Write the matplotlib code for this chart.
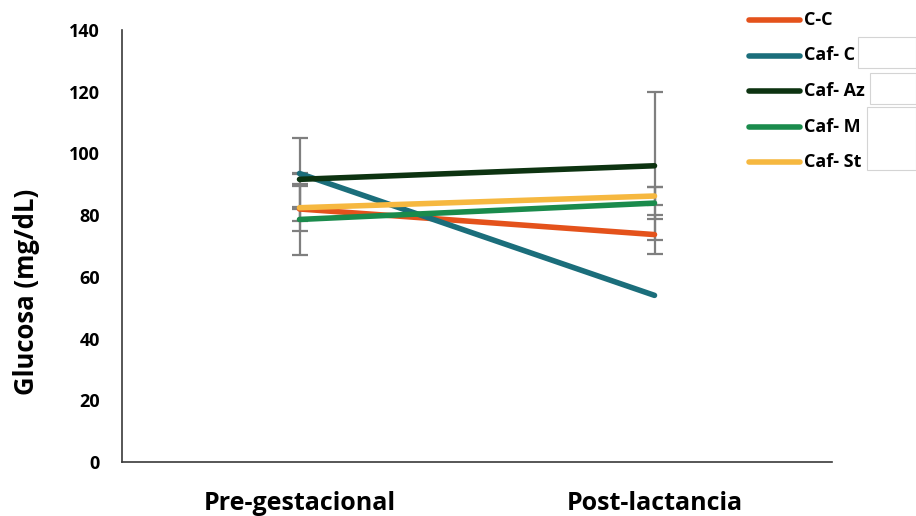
import matplotlib
matplotlib.use("Agg")
import matplotlib.pyplot as plt
from matplotlib.patches import Rectangle
from matplotlib.lines import Line2D

# Glucose per group at the two time points
periods = ["Pre-gestacional", "Post-lactancia"]
groups = ["C-C", "Caf- C", "Caf- Az", "Caf- M", "Caf- St"]
cc_vals = [82.0, 73.7]
cafc_vals = [93.5, 54.0]
cafaz_vals = [91.6, 96.0]
cafm_vals = [78.6, 83.9]
cafst_vals = [82.4, 86.2]
cc_err = [7.3, 6.3]
cafc_err = [0.3, 0.0]
cafaz_err = [13.5, 24.0]
cafm_err = [11.4, 5.3]
cafst_err = [0.4, 3.0]

colors = ["#E4521B", "#1B6E7B", "#0D3311", "#1A8B4C", "#F6B840"]
values = [cc_vals, cafc_vals, cafaz_vals, cafm_vals, cafst_vals]
errors = [cc_err, cafc_err, cafaz_err, cafm_err, cafst_err]

bold_font = "Open Sans"
W, H = 916, 516

fig = plt.figure(figsize=(W / 100, H / 100), dpi=100)
ax = fig.add_axes([122 / W, 1 - 462 / H, 710 / W, 432 / H])

x = list(range(len(periods)))
for vals, errs in zip(values, errors):
    for xi, v, e in zip(x, vals, errs):
        if e > 0:
            ax.errorbar([xi], [v], yerr=[e], fmt="none", ecolor="#7f7f7f",
                        elinewidth=1.6, capsize=5.5, capthick=1.6, zorder=2)
for vals, col, name in zip(values, colors, groups):
    ax.plot(x, vals, color=col, lw=4.0, solid_capstyle="round",
            label=name, zorder=3)

ax.set_xlim(-0.5, 1.5)
ax.set_ylim(0, 140)
ax.set_yticks(range(0, 141, 20))
ax.set_xticks(x)
ax.set_xticklabels(periods, fontsize=18, fontweight="bold", family=bold_font)
for lab in ax.get_yticklabels():
    lab.set_fontsize(13)
    lab.set_fontweight("bold")
    lab.set_family(bold_font)
ax.tick_params(axis="y", length=0, pad=16)
ax.tick_params(axis="x", length=0, pad=21)
ax.set_ylabel("Glucosa (mg/dL)", fontsize=18.5, fontweight="bold",
              family=bold_font)
ax.yaxis.set_label_coords(-0.115, 0.394)

for side in ("top", "right"):
    ax.spines[side].set_visible(False)
for side in ("left", "bottom"):
    ax.spines[side].set_color("#3a3a3a")
    ax.spines[side].set_linewidth(1.2)

# faint boxes beside the legend labels
for (x0, y0, x1, y1) in [(858, 37, 916, 68), (870, 73, 916, 104),
                         (867, 107, 916, 170)]:
    fig.patches.append(Rectangle((x0 / W, 1 - y1 / H), (x1 - x0) / W,
                                 (y1 - y0) / H, transform=fig.transFigure,
                                 facecolor="white", edgecolor="#d4d4d4",
                                 lw=0.8, zorder=0))

# legend entries
for i, (name, col) in enumerate(zip(groups, colors)):
    yy = 1 - (20 + 35.5 * i) / H
    fig.add_artist(Line2D([749 / W, 800 / W], [yy, yy], color=col, lw=4.0,
                          solid_capstyle="round", transform=fig.transFigure))
    fig.text(804 / W, yy, name, ha="left", va="center", fontsize=13,
             fontweight="bold", family=bold_font, zorder=5)

fig.savefig("out.png", dpi=100)
